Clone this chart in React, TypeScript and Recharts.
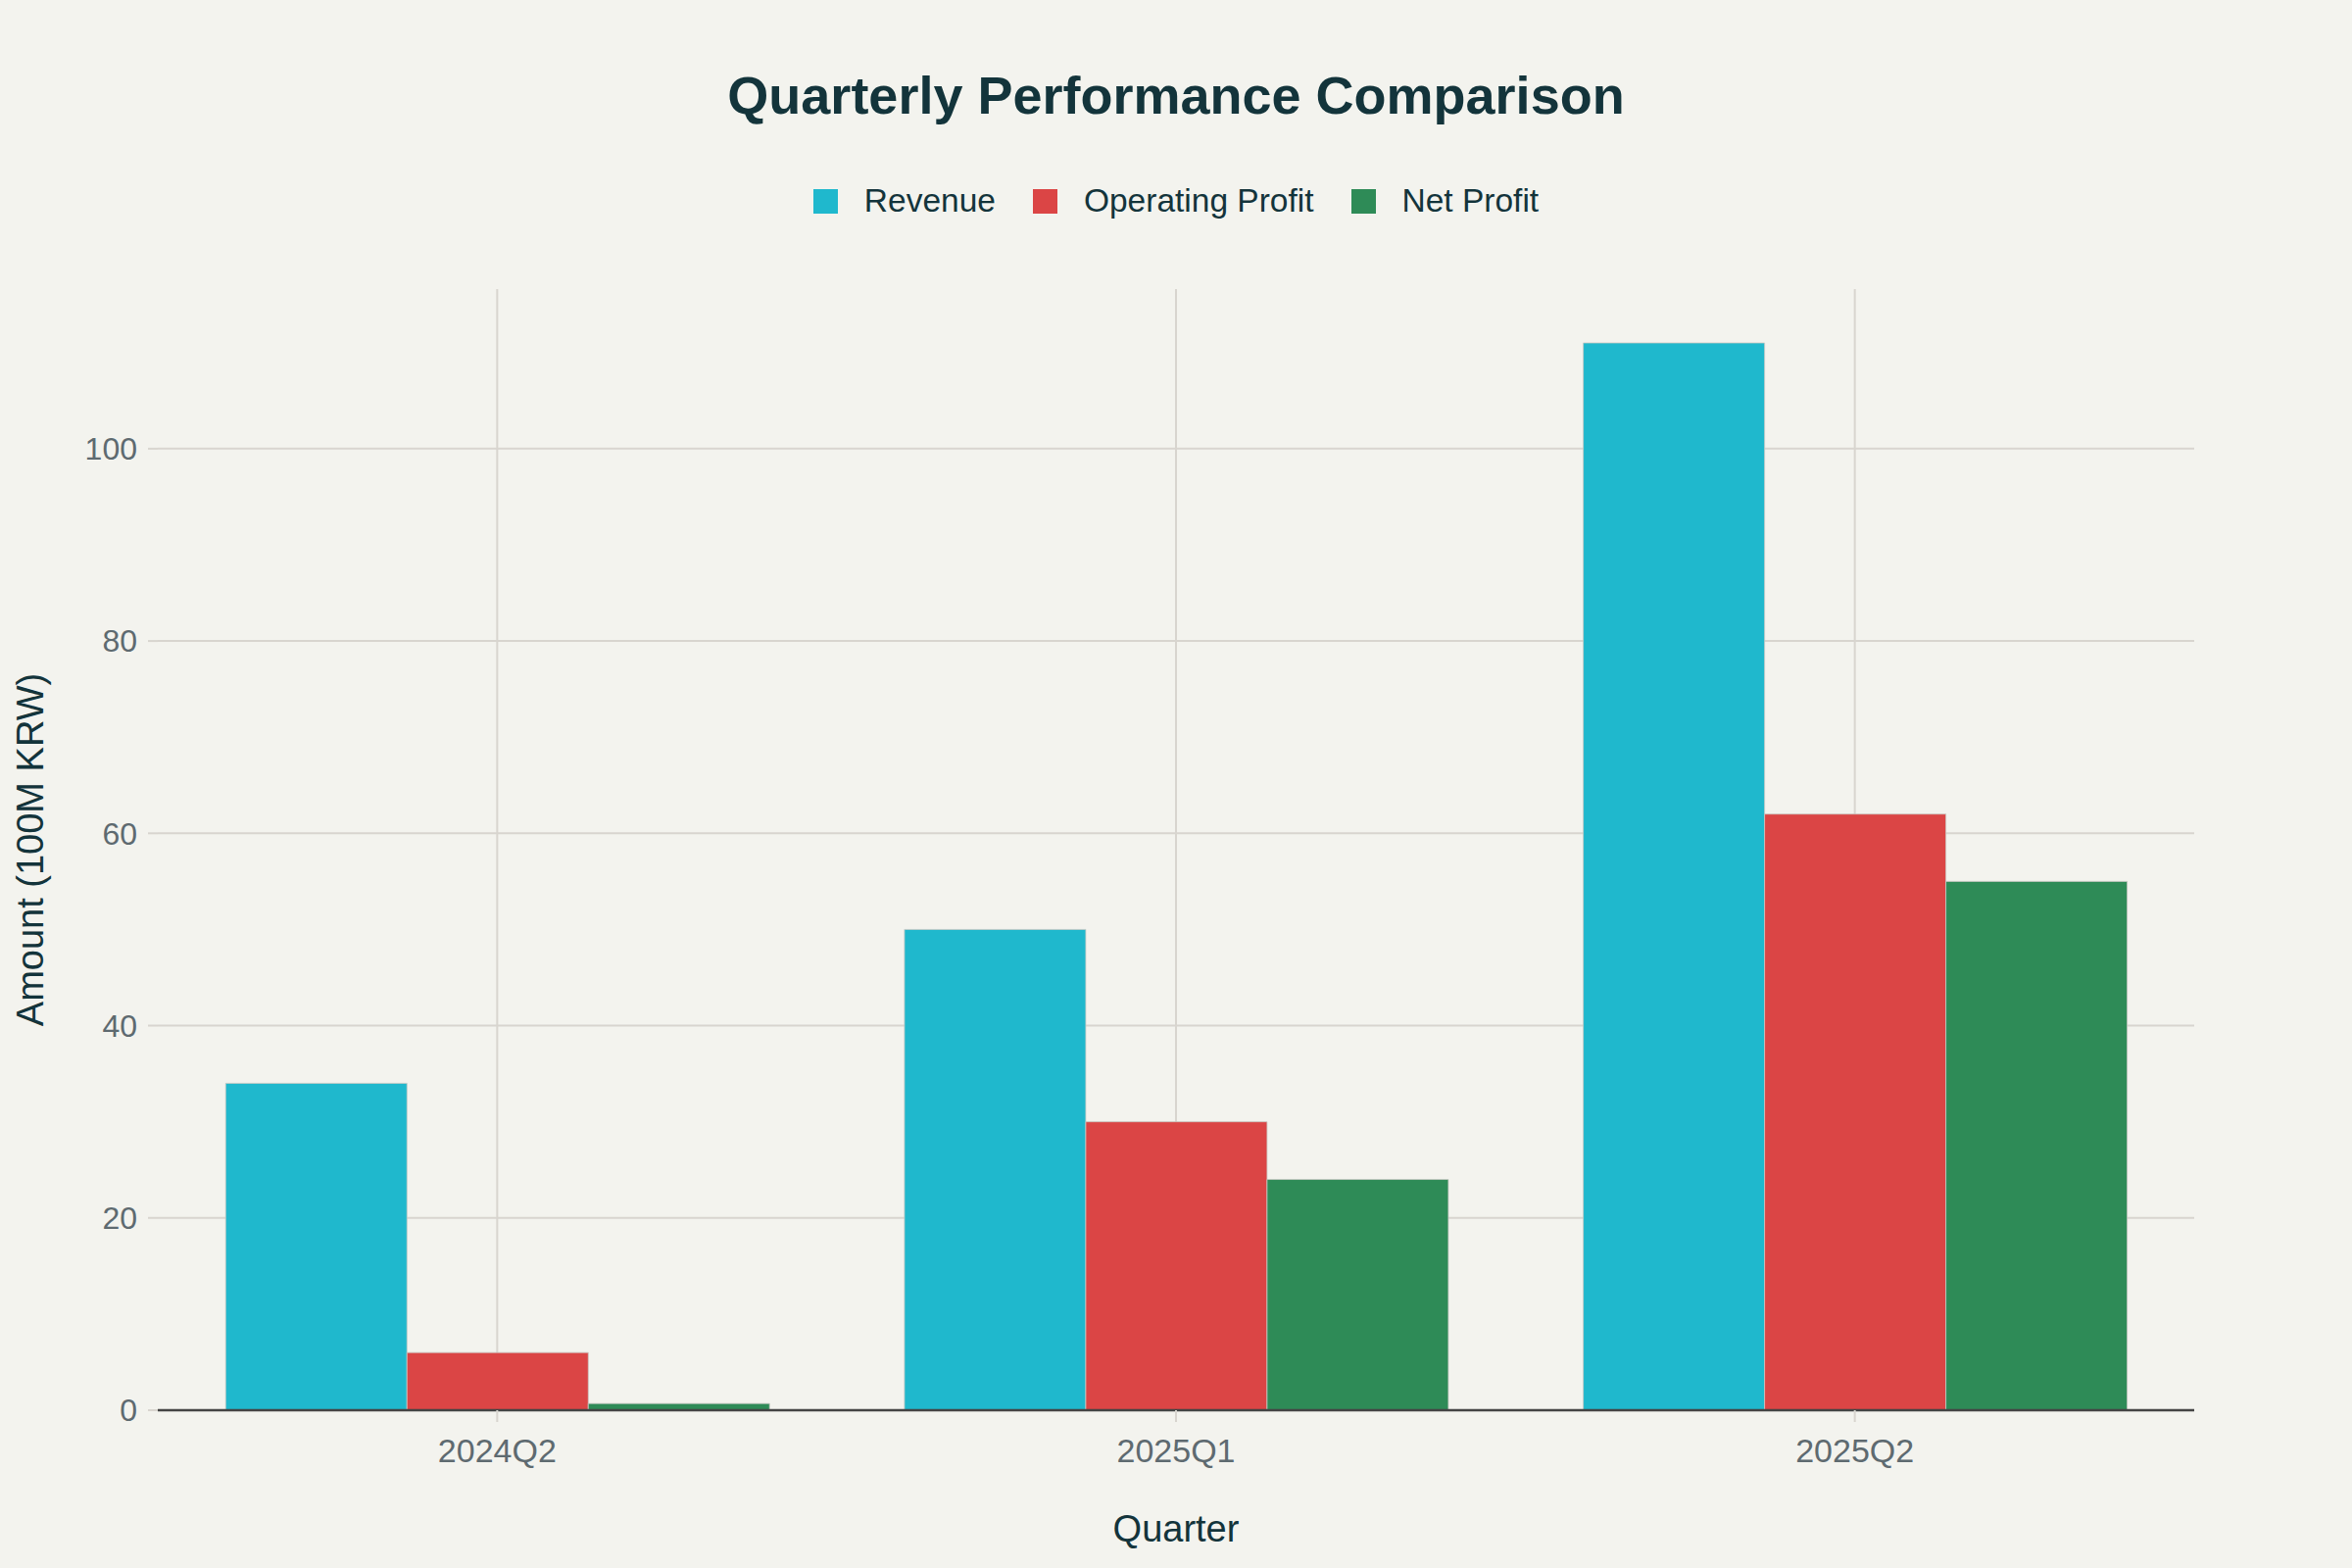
import { Bar, BarChart, CartesianGrid, Legend, XAxis, YAxis } from "recharts";

const quarters = ["2024Q2", "2025Q1", "2025Q2"];
const revenue = [34, 50, 111];
const operatingProfit = [6, 30, 62];
const netProfit = [0.7, 24, 55];
const yTicks = [0, 20, 40, 60, 80, 100];

const series = [
  { key: "revenue", name: "Revenue", color: "#1FB8CD" },
  { key: "operatingProfit", name: "Operating Profit", color: "#DB4545" },
  { key: "netProfit", name: "Net Profit", color: "#2E8B57" },
];

const chartData = quarters.map((quarter, i) => ({
  quarter,
  revenue: revenue[i],
  operatingProfit: operatingProfit[i],
  netProfit: netProfit[i],
}));

const FONT = '"Liberation Sans", Arial, sans-serif';
const INK = "#13343B";
const TICK = "#5E6A70";
const GRID = "#D8D5CF";
const BG = "#F3F3EE";

function LegendRow() {
  return (
    <div
      style={{
        display: "flex",
        justifyContent: "center",
        alignItems: "center",
        height: 50,
        fontFamily: FONT,
        fontSize: 33.5,
        color: INK,
      }}
    >
      {series.map((s, i) => (
        <div
          key={s.key}
          style={{ display: "flex", alignItems: "center", marginLeft: i === 0 ? 0 : 38 }}
        >
          <span
            style={{
              display: "inline-block",
              width: 25,
              height: 25,
              background: s.color,
              marginRight: 27,
            }}
          />
          <span>{s.name}</span>
        </div>
      ))}
    </div>
  );
}

export default function App() {
  return (
    <div style={{ position: "relative", width: 2400, height: 1600, background: BG }}>
      <style>{`body{margin:0}`}</style>
      <div
        style={{
          position: "absolute",
          top: 70,
          left: 0,
          width: 2400,
          textAlign: "center",
          fontFamily: FONT,
          fontWeight: 700,
          fontSize: 54,
          lineHeight: "54px",
          color: INK,
        }}
      >
        Quarterly Performance Comparison
      </div>
      <BarChart
        width={2400}
        height={1600}
        data={chartData}
        margin={{ top: 295, right: 161, bottom: 54, left: 0 }}
        barCategoryGap="10%"
        barGap={0}
      >
        <CartesianGrid stroke={GRID} strokeWidth={2} syncWithTicks />
        <XAxis
          dataKey="quarter"
          height={107}
          axisLine={{ stroke: "#444444", strokeWidth: 2.5 }}
          tickLine={{ stroke: GRID, strokeWidth: 2 }}
          tickSize={12}
          tickMargin={17}
          tick={{ fill: TICK, fontSize: 34, fontFamily: FONT }}
          label={{
            value: "Quarter",
            position: "bottom",
            offset: 0,
            fill: INK,
            fontSize: 38,
            fontFamily: FONT,
          }}
        />
        <YAxis
          width={161}
          domain={[0, 116.6]}
          ticks={yTicks}
          axisLine={false}
          tickLine={{ stroke: GRID, strokeWidth: 2 }}
          tickSize={10}
          tickMargin={11}
          tick={{ fill: TICK, fontSize: 32, fontFamily: FONT }}
          label={{
            value: "Amount (100M KRW)",
            angle: -90,
            position: "insideLeft",
            offset: 31,
            fill: INK,
            fontSize: 38,
            fontFamily: FONT,
            style: { textAnchor: "middle" },
          }}
        />
        <Legend
          verticalAlign="middle"
          content={<LegendRow />}
          wrapperStyle={{ top: 180, left: 0, width: 2400, height: 50 }}
        />
        {series.map((s) => (
          <Bar
            key={s.key}
            dataKey={s.key}
            name={s.name}
            fill={s.color}
            stroke="rgba(200,200,195,0.8)"
            strokeWidth={1}
            isAnimationActive={false}
          />
        ))}
      </BarChart>
    </div>
  );
}
